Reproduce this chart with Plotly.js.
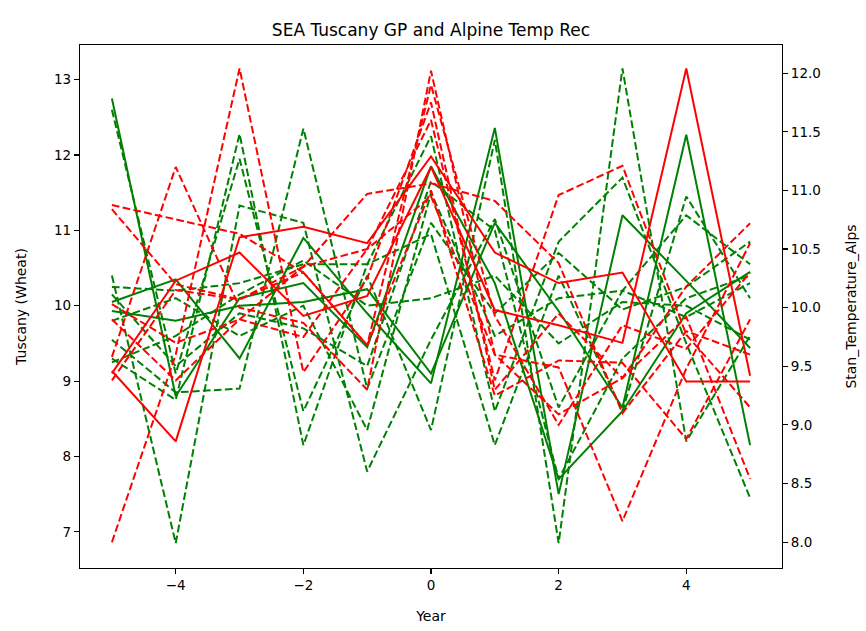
<!DOCTYPE html>
<html>
<head>
<meta charset="utf-8">
<script src="https://cdn.plot.ly/plotly-3.0.1.min.js"></script>
<style>html,body{margin:0;padding:0;background:#fff;}#chart{width:866px;height:631px;}</style>
</head>
<body>
<div id="chart"></div>
<script>
// ---- data ----
var years = [-5, -4, -3, -2, -1, 0, 1, 2, 3, 4, 5];

// Tuscany (Wheat) - left axis, green
var tuscanySolid1 = [12.75, 8.8, 10.1, 10.3, 9.45, 11.85, 10.3, 7.7, 8.6, 9.9, 10.45];
var tuscanySolid2 = [10.05, 10.35, 9.3, 10.9, 9.9, 8.97, 12.36, 7.5, 11.2, 10.33, 9.44];
var tuscanySolid3 = [9.93, 9.8, 10.0, 10.05, 10.22, 9.1, 11.1, 9.93, 8.65, 12.27, 8.15];

var tuscanyDash1 = [10.4, 6.85, 11.33, 11.1, 7.8, 9.55, 11.15, 8.65, 10.2, 9.85, 10.3];
var tuscanyDash2 = [9.55, 8.85, 8.9, 12.35, 8.9, 11.1, 9.9, 10.7, 9.95, 10.25, 10.85];
var tuscanyDash3 = [9.3, 8.75, 12.28, 8.15, 10.55, 12.25, 8.6, 10.85, 11.7, 9.5, 7.45];
var tuscanyDash4 = [12.6, 9.1, 11.95, 8.6, 10.4, 8.35, 12.2, 6.85, 13.15, 8.2, 9.6];
var tuscanyDash5 = [10.25, 10.2, 10.3, 10.55, 10.55, 10.95, 8.15, 10.4, 8.6, 11.45, 10.1];
var tuscanyDash6 = [9.8, 10.1, 9.6, 10.0, 8.35, 11.5, 9.6, 10.1, 10.2, 11.2, 10.55];
var tuscanyDash7 = [9.25, 9.6, 10.15, 10.6, 10.0, 10.1, 10.4, 9.5, 10.05, 10.0, 9.55];
var tuscanyDash8 = [10.15, 9.2, 9.9, 9.7, 9.2, 11.65, 11.0, 7.7, 9.3, 10.1, 10.4];

// Stan_Temperature_Alps - right axis, red
var alpsSolid1 = [9.46, 8.86, 10.6, 10.69, 10.55, 11.29, 10.47, 10.21, 10.3, 9.37, 9.37];
var alpsSolid2 = [9.44, 10.23, 10.47, 9.93, 10.1, 11.2, 9.98, 9.85, 9.7, 12.04, 9.42];

var alpsDash1 = [8.0, 9.6, 12.04, 9.45, 10.25, 11.75, 9.3, 9.95, 9.4, 9.92, 8.54];
var alpsDash2 = [9.58, 11.2, 10.0, 9.87, 9.3, 12.02, 9.6, 9.49, 8.18, 9.48, 10.55];
var alpsDash3 = [10.875, 10.75, 10.63, 10.3, 9.68, 11.9, 9.93, 9.0, 9.85, 9.65, 10.3];
var alpsDash4 = [10.84, 10.2, 10.07, 10.35, 10.97, 11.06, 10.91, 10.38, 9.1, 9.8, 9.6];
var alpsDash5 = [9.9, 9.38, 9.9, 9.75, 10.5, 11.6, 9.38, 10.96, 11.21, 9.77, 9.15];
var alpsDash6 = [9.38, 10.15, 10.07, 10.3, 9.68, 11.0, 9.25, 9.55, 9.53, 8.88, 9.9];
var alpsDash7 = [10.03, 9.7, 9.9, 10.35, 10.5, 10.95, 9.6, 9.09, 9.4, 10.18, 10.72];

var chartTitle = "SEA Tuscany GP and Alpine Temp Rec";
var xTitle = "Year";
var yTitle = "Tuscany (Wheat)";
var y2Title = "Stan_Temperature_Alps";

// ---- traces ----
var GREEN = "#008000", RED = "#ff0000";
var DASH = "7.7px,3.3px";
function line(y, color, dashed, axis) {
  return {
    x: years, y: y, type: "scatter", mode: "lines",
    yaxis: axis, hoverinfo: "skip", showlegend: false,
    line: {color: color, width: 2, dash: dashed ? DASH : "solid"}
  };
}
var traces = [];
[tuscanySolid1, tuscanySolid2, tuscanySolid3].forEach(function (s) { traces.push(line(s, GREEN, false, "y")); });
[tuscanyDash1, tuscanyDash2, tuscanyDash3, tuscanyDash4, tuscanyDash5, tuscanyDash6, tuscanyDash7, tuscanyDash8]
  .forEach(function (s) { traces.push(line(s, GREEN, true, "y")); });
[alpsSolid1, alpsSolid2].forEach(function (s) { traces.push(line(s, RED, false, "y2")); });
[alpsDash1, alpsDash2, alpsDash3, alpsDash4, alpsDash5, alpsDash6, alpsDash7]
  .forEach(function (s) { traces.push(line(s, RED, true, "y2")); });

var FONT = "DejaVu Sans, sans-serif";
var tickFont = {family: FONT, size: 13.5, color: "#000"};
var titleFont = {family: FONT, size: 14, color: "#000"};
var layout = {
  width: 866, height: 631,
  margin: {l: 80, r: 84, t: 45, b: 63},
  paper_bgcolor: "#fff", plot_bgcolor: "#fff",
  font: {family: FONT, color: "#000"},
  showlegend: false,
  title: {text: chartTitle, font: {family: FONT, size: 17, color: "#000"},
          x: 0.5, xref: "paper", xanchor: "center", y: 1, yref: "paper", yanchor: "bottom", pad: {b: 9}},
  xaxis: {
    range: [-5.5, 5.5], tickvals: [-4, -2, 0, 2, 4], ticktext: ["\u22124", "\u22122", "0", "2", "4"],
    showgrid: false, zeroline: false, showline: true, linecolor: "#000", linewidth: 1.1, mirror: true,
    ticks: "outside", ticklen: 5, tickwidth: 1.1, tickcolor: "#000", tickfont: tickFont,
    title: {text: xTitle, font: titleFont, standoff: 18}
  },
  yaxis: {
    range: [6.52, 13.46], tickvals: [7, 8, 9, 10, 11, 12, 13],
    showgrid: false, zeroline: false, showline: true, linecolor: "#000", linewidth: 1.1,
    ticks: "outside", ticklen: 5, tickwidth: 1.1, tickcolor: "#000", tickfont: tickFont,
    title: {text: yTitle, font: titleFont, standoff: 24}
  },
  yaxis2: {
    overlaying: "y", side: "right", anchor: "x",
    range: [7.78, 12.24], tickvals: [8, 8.5, 9, 9.5, 10, 10.5, 11, 11.5, 12],
    ticktext: ["8.0", "8.5", "9.0", "9.5", "10.0", "10.5", "11.0", "11.5", "12.0"],
    showgrid: false, zeroline: false, showline: true, linecolor: "#000", linewidth: 1.1,
    ticks: "outside", ticklen: 5, tickwidth: 1.1, tickcolor: "#000", tickfont: tickFont,
    title: {text: y2Title, font: titleFont, standoff: 26}
  }
};
Plotly.newPlot("chart", traces, layout, {staticPlot: true, displayModeBar: false});
</script>
</body>
</html>
